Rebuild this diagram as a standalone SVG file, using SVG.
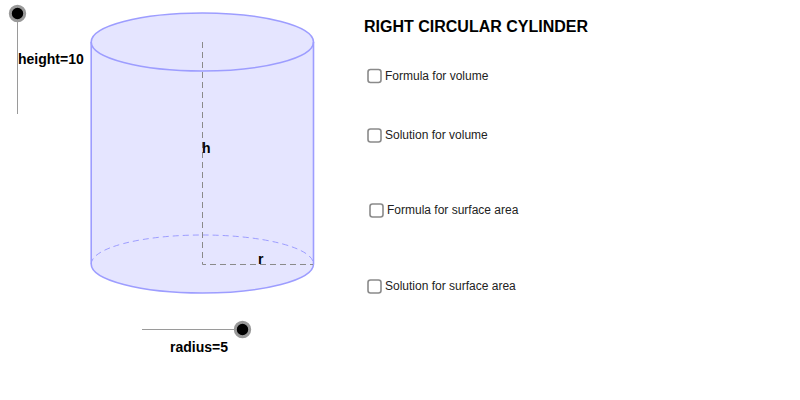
<svg xmlns="http://www.w3.org/2000/svg" width="800" height="400" viewBox="0 0 800 400">
<style>
text{font-family:"Liberation Sans",Arial,sans-serif;fill:#000}
.b{font-weight:700;font-size:14px}
.l{font-size:12px;fill:#222}
.cb{fill:#fff;stroke:#8a8a8a;stroke-width:1.6}
.track{stroke:#9a9a9a;stroke-width:1;fill:none}
.ring{fill:#000;stroke:#999;stroke-width:3}
.edge{fill:none;stroke:#9d9dff;stroke-width:1.6}
.dash{fill:none;stroke:#8a8a8a;stroke-width:1;stroke-dasharray:6 4}
</style>
<rect width="800" height="400" fill="#fff"/>
<g id="cylinder">
<path d="M91.200 42V264A111 29 0 0 0 313.500 264V42A111 29 0 0 0 91.200 42Z" fill="#e5e5ff"/>
<path class="edge" d="M91.200 42V264A111.150 29 0 0 0 313.500 264V42"/>
<ellipse class="edge" cx="202.350" cy="42" rx="111.150" ry="29"/>
<path d="M91.200 264A111.150 29 0 0 1 313.500 264" fill="none" stroke="#9d9dff" stroke-width="1" stroke-dasharray="6 4"/>
</g>
<g id="connectors">
<path class="dash" d="M202.500 42V264.500H313"/>
<path class="track" d="M17.500 13V114"/>
<path class="track" d="M142 329.500H242"/>
</g>
<g id="label-h"><text class="b" x="202" y="153">h</text></g>
<g id="label-r"><text class="b" x="258" y="264">r</text></g>
<g id="slider-height"><circle class="ring" cx="17.500" cy="13.500" r="7.200"/><text class="b" x="18" y="64">height=10</text></g>
<g id="slider-radius"><circle class="ring" cx="242.500" cy="329.500" r="7.200"/><text class="b" x="170" y="352">radius=5</text></g>
<g id="title"><text x="364" y="32" font-size="16" font-weight="700">RIGHT CIRCULAR CYLINDER</text></g>
<g id="check-1"><rect class="cb" x="368" y="69.500" width="13" height="13" rx="2.500"/><text class="l" x="385" y="80">Formula for volume</text></g>
<g id="check-2"><rect class="cb" x="368" y="129" width="13" height="13" rx="2.500"/><text class="l" x="385" y="139">Solution for volume</text></g>
<g id="check-3"><rect class="cb" x="370" y="204" width="13" height="13" rx="2.500"/><text class="l" x="387" y="214">Formula for surface area</text></g>
<g id="check-4"><rect class="cb" x="368" y="280" width="13" height="13" rx="2.500"/><text class="l" x="385" y="290">Solution for surface area</text></g>
</svg>
